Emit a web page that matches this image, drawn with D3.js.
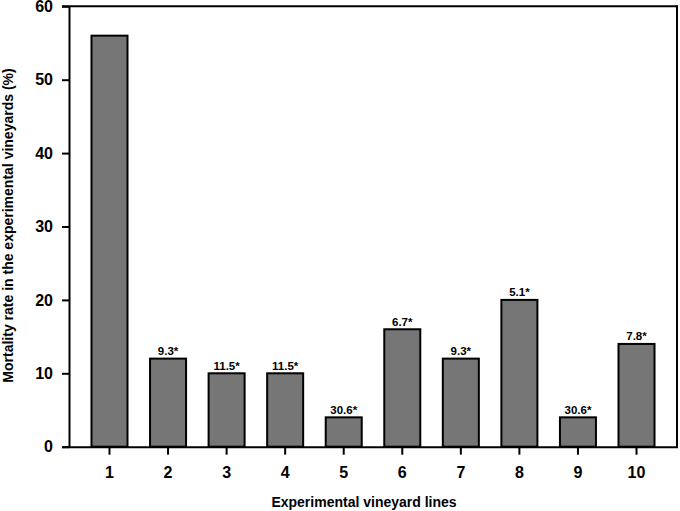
<!DOCTYPE html>
<html><head><meta charset="utf-8">
<script src="https://cdn.jsdelivr.net/npm/d3@7"></script>
<style>
body{margin:0;background:#fff;}
svg{display:block;font-family:"Liberation Sans",Arial,sans-serif;font-weight:bold;}
</style></head>
<body><svg id="c" width="680" height="511"></svg>
<script>
const categories = ["1","2","3","4","5","6","7","8","9","10"];
const values = [56, 12, 10, 10, 4, 16, 12, 20, 4, 14];
const annotations = ["", "9.3*", "11.5*", "11.5*", "30.6*", "6.7*", "9.3*", "5.1*", "30.6*", "7.8*"];
const yTicks = [0, 10, 20, 30, 40, 50, 60];
const xTitle = "Experimental vineyard lines";
const yTitle = "Mortality rate in the experimental vineyards (%)";

const svg = d3.select("#c");
const L = 69, R = 677, T = 6.3, B = 446.7;

const x = d3.scaleBand().domain(categories).range([L, R]).paddingInner(0.385).paddingOuter(0.384);
const y = d3.scaleLinear().domain([0, 60]).range([B, T]);

// bars
svg.append("g").selectAll("rect").data(values).join("rect")
  .attr("x", (d, i) => x(categories[i]))
  .attr("y", d => y(d))
  .attr("width", x.bandwidth())
  .attr("height", d => y(0) - y(d))
  .attr("fill", "#767676")
  .attr("stroke", "#000")
  .attr("stroke-width", 2);

// annotations
svg.append("g").selectAll("text").data(annotations).join("text")
  .attr("x", (d, i) => x(categories[i]) + x.bandwidth() / 2)
  .attr("y", (d, i) => y(values[i]) - 3.5)
  .attr("text-anchor", "middle")
  .attr("font-size", "11.5px")
  .attr("fill", "#000")
  .text(d => d);

// frame: top and right
svg.append("line").attr("x1", L - 7).attr("x2", R).attr("y1", y(60)).attr("y2", y(60))
  .attr("stroke", "#000").attr("stroke-width", 2);
svg.append("line").attr("x1", R).attr("x2", R).attr("y1", y(60) - 1).attr("y2", y(0))
  .attr("stroke", "#000").attr("stroke-width", 2);

// y axis
const gy = svg.append("g").attr("transform", `translate(${L},0)`)
  .call(d3.axisLeft(y).tickValues(yTicks).tickSize(7).tickPadding(9).tickSizeOuter(0));
gy.selectAll("text").attr("font-size", "16px").attr("font-weight", "bold").attr("font-family", "Liberation Sans, Arial, sans-serif").attr("fill", "#000");
gy.selectAll("line, path").attr("stroke", "#000").attr("stroke-width", 2);

// x axis
const gx = svg.append("g").attr("transform", `translate(0,${B})`)
  .call(d3.axisBottom(x).tickSize(8).tickPadding(12).tickSizeOuter(0));
gx.select(".domain").attr("d", `M${L - 7},0.5H${R + 1}`);
gx.selectAll("text").attr("font-size", "16px").attr("font-weight", "bold").attr("font-family", "Liberation Sans, Arial, sans-serif").attr("fill", "#000");
gx.selectAll("line, path").attr("stroke", "#000").attr("stroke-width", 2);

// titles
svg.append("text").attr("x", 364).attr("y", 507).attr("text-anchor", "middle")
  .attr("font-size", "14px").attr("fill", "#000").text(xTitle);
svg.append("text").attr("transform", "translate(12.5,225.5) rotate(-90)").attr("text-anchor", "middle")
  .attr("font-size", "14px").attr("fill", "#000").text(yTitle);
</script></body></html>
